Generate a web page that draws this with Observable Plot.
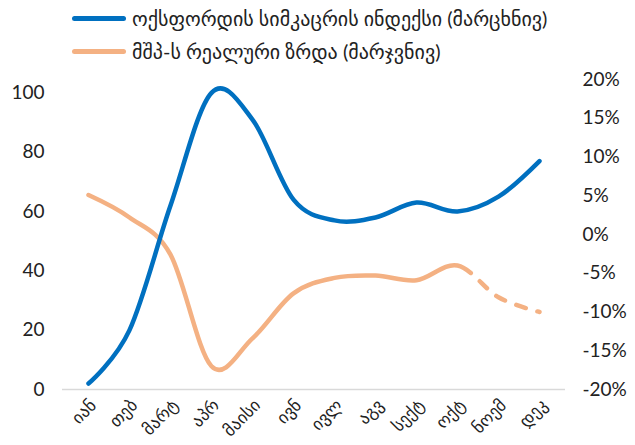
<!DOCTYPE html>
<html>
<head>
<meta charset="utf-8">
<script src="https://cdn.jsdelivr.net/npm/d3@7"></script>
<script src="https://cdn.jsdelivr.net/npm/@observablehq/plot@0.6"></script>
<style>
  html, body { margin: 0; padding: 0; background: #fff; }
  body { width: 635px; height: 445px; overflow: hidden; font-family: Lato, "DejaVu Sans", sans-serif; }
  #legend { height: 61px; position: relative; }
  .row { position: absolute; left: 72px; display: flex; align-items: center; font-size: 20px; color: #222; white-space: nowrap; }
  .sw { width: 54px; height: 5px; border-radius: 3px; margin-right: 6px; }
</style>
</head>
<body>
<div id="legend"></div>
<div id="chart"></div>
<script>
const months = ["იან","თებ","მარტ","აპრ","მაისი","ივნ","ივლ","აგვ","სექტ","ოქტ","ნოემ","დეკ"];
const stringency = [2, 20, 62, 100, 91, 64, 57, 58, 63, 60, 65, 77];
const gdpGrowth = [5.1, 2.2, -2.6, -17, -13.4, -7.6, -5.6, -5.3, -5.9, -4.0, -8.1, -10.0];
const leftTicks = [0, 20, 40, 60, 80, 100];
const rightTicks = [-20, -15, -10, -5, 0, 5, 10, 15, 20];
const seriesNames = ["ოქსფორდის სიმკაცრის ინდექსი (მარცხნივ)", "მშპ-ს რეალური ზრდა (მარჯვნივ)"];
const colors = ["#0070C0", "#F4B183"];
const forecastFrom = "ოქტ";

// left axis domain and mapping of right (%) axis onto it
const leftMax = 104.5;
const rightMin = -20, rightMax = 20;
const toLeft = v => (v - rightMin) / (rightMax - rightMin) * leftMax;

// legend
const legend = document.getElementById("legend");
seriesNames.forEach((name, i) => {
  const row = document.createElement("div");
  row.className = "row";
  row.style.top = (i === 0 ? 6 : 39) + "px";
  row.innerHTML = `<div class="sw" style="background:${colors[i]}"></div><span>${name}</span>`;
  legend.appendChild(row);
});

const blue = months.map((m, i) => ({month: m, v: stringency[i]}));
const orange = months.map((m, i) => ({month: m, v: toLeft(gdpGrowth[i])}));

const chart = Plot.plot({
  width: 635,
  height: 384,
  marginTop: 18,
  marginBottom: 56,
  marginLeft: 62,
  marginRight: 70,
  style: {fontFamily: "Lato, 'DejaVu Sans', sans-serif", fontSize: "19px", color: "#222", overflow: "visible"},
  x: {type: "point", domain: months, padding: 0.5},
  y: {domain: [0, leftMax]},
  marks: [
    Plot.ruleY([0], {stroke: "#d9d9d9", strokeWidth: 1.5}),
    Plot.axisY({ticks: leftTicks, anchor: "left", tickSize: 0, tickPadding: 18, label: null, fontSize: 19}),
    Plot.axisY({ticks: rightTicks.map(toLeft), anchor: "right", tickSize: 0, tickPadding: 17, label: null, fontSize: 19,
      tickFormat: (d) => Math.round(d / leftMax * (rightMax - rightMin) + rightMin) + "%", textAnchor: "start"}),
    Plot.axisX({tickRotate: -45, tickSize: 0, tickPadding: 13, dx: 5, label: null, fontSize: 17}),
    Plot.line(orange, {x: "month", y: "v", stroke: colors[1], strokeWidth: 4.5, curve: "cardinal", tension: 0, strokeLinecap: "round", className: "gdp"}),
    Plot.line(blue, {x: "month", y: "v", stroke: colors[0], strokeWidth: 4.5, curve: "cardinal", tension: 0, strokeLinecap: "round"})
  ]
});
document.getElementById("chart").appendChild(chart);

// make the orange line dashed after the forecast start
const path = chart.querySelector(".gdp path");
if (path) {
  const xStart = 62 + (635 - 62 - 70) / months.length * (months.indexOf(forecastFrom) + 0.5);
  const total = path.getTotalLength();
  let lo = 0, hi = total;
  for (let k = 0; k < 40; k++) {
    const mid = (lo + hi) / 2;
    if (path.getPointAtLength(mid).x < xStart + 10) lo = mid; else hi = mid;
  }
  const parts = [lo, 12];
  for (let s = lo; s < total + 40; s += 22) parts.push(10, 12);
  path.setAttribute("stroke-dasharray", parts.map(d => d.toFixed(2)).join(" "));
}
</script>
</body>
</html>
